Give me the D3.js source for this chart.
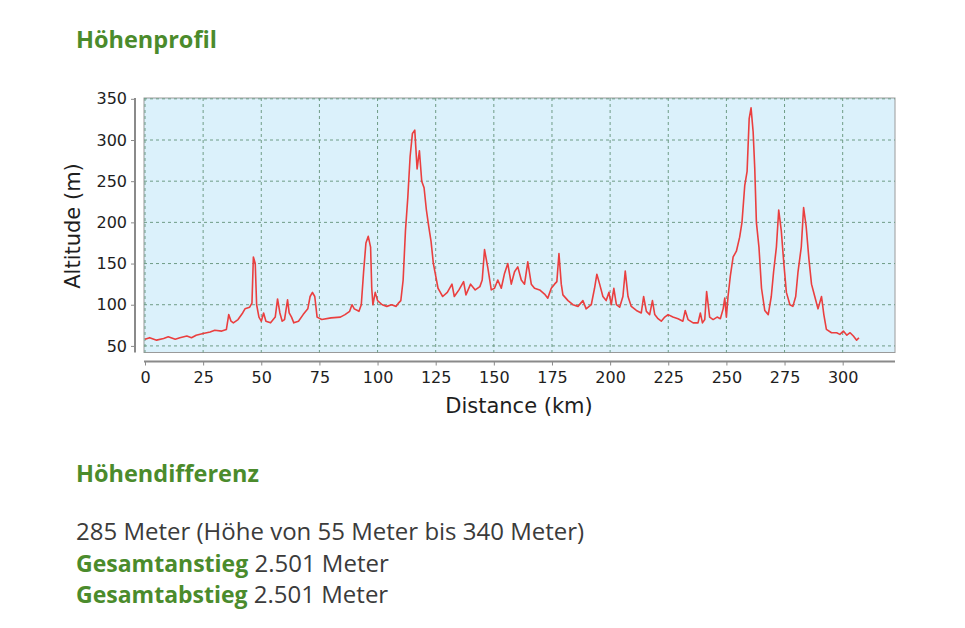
<!DOCTYPE html>
<html>
<head>
<meta charset="utf-8">
<script src="https://cdn.jsdelivr.net/npm/d3@7"></script>
<style>
  body { margin: 0; background: #fff; }
  svg { display: block; }
</style>
</head>
<body>
<svg id="page" width="965" height="628"></svg>
<script>
// Streckenprofil: Distanz (km) und Höhe (m)
const distKm = [
  0, 2, 5, 8, 10, 13, 15, 18, 20, 22, 25, 28, 30, 33, 35, 36, 37, 38, 40, 42,
  43, 45, 46, 46.6, 47.4, 48, 49, 50, 51, 52, 54, 56, 57, 58, 59, 60, 61.3, 62, 63, 64,
  66, 68, 70, 71, 72, 73, 74, 76, 80, 84, 86, 88, 89, 90, 92, 93, 94, 95, 96, 97,
  97.5, 98, 99, 100, 102, 104, 106, 108, 109, 110, 111, 112, 113, 114, 115, 116, 117, 118, 119, 120,
  121, 122, 123, 124, 125, 126, 127, 128, 130, 132, 133, 135, 137, 138, 140, 142, 144, 145, 146, 147.4,
  148.9, 150.3, 151.7, 153.2, 154.6, 156, 157.5, 158.9, 160.3, 161.8, 163.2, 164.6, 166.1, 167.5, 169.7, 171.8, 173.2, 174.7, 176.1, 177.1,
  178, 179, 179.7, 181.9, 184, 186.2, 188.3, 189.7, 191.9, 193.3, 194.3, 195.5, 196.9, 198.3, 199.5, 200.5, 201.6, 202.7, 204.1, 205.5,
  206.5, 207.7, 209.1, 211.3, 213.4, 214.4, 215.6, 217, 218.2, 219.2, 220.6, 222, 223.5, 224.9, 227, 229.2, 231.3, 232.3, 233.5, 235.7,
  237.8, 238.8, 239.7, 240.7, 241.5, 242.8, 244.3, 246, 247.4, 248.6, 249.3, 250, 250.7, 251.7, 252.9, 254.3, 255.7, 256.7, 257.9, 258.9,
  259.8, 260.6, 261.5, 262.2, 262.9, 264, 265.1, 266.5, 268, 269.3, 270.3, 271.5, 272.5, 273.6, 274.7, 275.8, 277.3, 278.6, 279.8, 280.8,
  282.2, 283.2, 284.3, 285.5, 286.6, 288, 289.4, 290.9, 291.9, 293, 295.2, 297.4, 298.8, 300.3, 301.8, 303.2, 304.6, 306, 307
];
const altM = [
  58, 60, 57, 59, 61, 58, 60, 62, 60, 63, 65, 67, 69, 68, 70, 88, 80, 78, 82, 90,
  95, 97, 102, 158, 150, 100, 85, 80, 90, 80, 78, 85, 107, 90, 80, 82, 106, 90, 85, 78,
  80, 88, 95, 110, 115, 110, 85, 82, 84, 85, 88, 92, 100, 95, 92, 100, 140, 175, 183, 170,
  120, 100, 115, 105, 100, 98, 100, 98, 102, 105, 130, 190, 230, 280, 308, 312, 265, 287, 250, 242,
  215, 195, 177, 150, 135, 120, 115, 110, 115, 125, 110, 118, 128, 112, 125, 118, 122, 130, 167, 145,
  118, 120, 130, 120, 138, 150, 125, 140, 146, 130, 125, 152, 125, 120, 118, 113, 108, 120, 125, 128,
  162, 125, 112, 105, 100, 98, 105, 95, 100, 120, 137, 125, 110, 105, 115, 100, 120, 100, 97, 110,
  141, 110, 98, 93, 90, 110, 92, 88, 105, 88, 83, 80, 85, 88, 85, 83, 80, 93, 82, 78,
  78, 90, 78, 82, 116, 85, 82, 85, 83, 95, 108, 85, 110, 135, 158, 165, 182, 200, 245, 262,
  326, 339, 310, 265, 200, 170, 120, 93, 88, 110, 140, 170, 215, 190, 150, 115, 100, 98, 110, 140,
  170, 218, 195, 155, 125, 110, 95, 110, 88, 70, 66, 66, 64, 68, 63, 66, 62, 57, 60
];
const xTicks = [0, 25, 50, 75, 100, 125, 150, 175, 200, 225, 250, 275, 300];
const yTicks = [50, 100, 150, 200, 250, 300, 350];

const profile = distKm.map((d, i) => ({ km: d, alt: altM[i] }));

const green = "#4b8b2c";
const grey = "#3b3b3b";
const textFont = "'Open Sans', sans-serif";
const chartFont = "'DejaVu Sans', sans-serif";

const svg = d3.select("#page");

// Plotbereich
const plot = { left: 144, right: 895, top: 98, bottom: 352.5 };

const x = d3.scaleLinear()
    .domain([0, 322.5])
    .range([plot.left + 1, plot.right]);

const y = d3.scaleLinear()
    .domain([42, 351])
    .range([plot.bottom, plot.top]);

// Hintergrund
svg.append("rect")
    .attr("x", plot.left)
    .attr("y", plot.top)
    .attr("width", plot.right - plot.left)
    .attr("height", plot.bottom - plot.top)
    .attr("fill", "#dbf1fb")
    .attr("stroke", "#9a9a9a")
    .attr("stroke-width", 1);

// Gitterlinien
svg.append("g")
    .selectAll("line")
    .data(xTicks)
    .enter().append("line")
    .attr("x1", d => x(d)).attr("x2", d => x(d))
    .attr("y1", plot.top).attr("y2", plot.bottom)
    .attr("stroke", "#6f9c86")
    .attr("stroke-width", 1)
    .attr("stroke-dasharray", "3,3");

svg.append("g")
    .selectAll("line")
    .data(yTicks)
    .enter().append("line")
    .attr("x1", plot.left).attr("x2", plot.right)
    .attr("y1", d => y(d)).attr("y2", d => y(d))
    .attr("stroke", "#6f9c86")
    .attr("stroke-width", 1)
    .attr("stroke-dasharray", "3,3");

// Höhenlinie
const line = d3.line()
    .x(d => x(d.km))
    .y(d => y(d.alt));

svg.append("path")
    .datum(profile)
    .attr("d", line)
    .attr("fill", "none")
    .attr("stroke", "#ea3f3f")
    .attr("stroke-width", 1.6)
    .attr("stroke-linejoin", "round");

// Achsen
const xAxis = svg.append("g")
    .attr("transform", `translate(0,${plot.bottom + 9})`)
    .call(d3.axisBottom(x).tickValues(xTicks).tickSize(4).tickPadding(6));

const yAxis = svg.append("g")
    .attr("transform", `translate(${plot.left - 9},0)`)
    .call(d3.axisLeft(y).tickValues(yTicks).tickSize(4).tickPadding(4));

[xAxis, yAxis].forEach(ax => {
  ax.select(".domain").attr("stroke", "#8a8a8a").attr("stroke-width", 2);
  ax.selectAll(".tick line").attr("stroke", "#8a8a8a");
  ax.selectAll(".tick text")
      .attr("fill", "#1e1e1e")
      .style("font-family", chartFont)
      .style("font-size", "16px");
});
xAxis.select(".domain").attr("d", `M${plot.left},0H${plot.right}`);
yAxis.select(".domain").attr("d", `M0,${plot.top}V${plot.bottom}`);

svg.append("text")
    .attr("x", 519)
    .attr("y", 413)
    .attr("text-anchor", "middle")
    .style("font-family", chartFont)
    .style("font-size", "21px")
    .attr("fill", "#1e1e1e")
    .text("Distance (km)");

svg.append("text")
    .attr("transform", "translate(80,226) rotate(-90)")
    .attr("text-anchor", "middle")
    .style("font-family", chartFont)
    .style("font-size", "21px")
    .attr("fill", "#1e1e1e")
    .text("Altitude (m)");

// Texte
svg.append("text")
    .attr("x", 76).attr("y", 48)
    .style("font-family", textFont)
    .style("font-size", "23.5px")
    .style("font-weight", "bold")
    .attr("fill", green)
    .text("Höhenprofil");

svg.append("text")
    .attr("x", 76).attr("y", 482)
    .style("font-family", textFont)
    .style("font-size", "23.5px")
    .style("font-weight", "bold")
    .attr("fill", green)
    .text("Höhendifferenz");

const rows = [
  { label: "", value: "285 Meter (Höhe von 55 Meter bis 340 Meter)" },
  { label: "Gesamtanstieg", value: " 2.501 Meter" },
  { label: "Gesamtabstieg", value: " 2.501 Meter" }
];

rows.forEach((r, i) => {
  const t = svg.append("text")
      .attr("x", 76).attr("y", 540 + i * 31.7)
      .style("font-family", textFont)
      .style("font-size", "24px");
  if (r.label) {
    t.append("tspan").attr("fill", green).style("font-weight", "bold").style("font-size", "23px").text(r.label);
  }
  t.append("tspan").attr("fill", grey).text(r.value);
});
</script>
</body>
</html>
